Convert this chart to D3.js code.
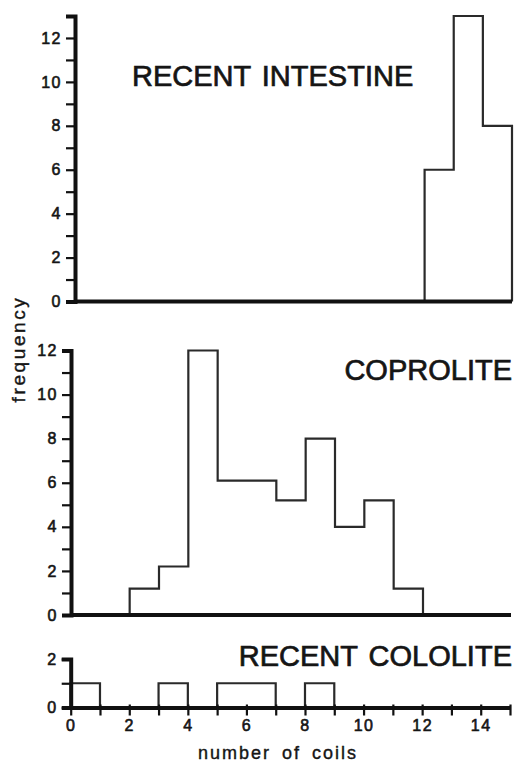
<!DOCTYPE html>
<html>
<head>
<meta charset="utf-8">
<script src="https://cdn.jsdelivr.net/npm/d3@7/dist/d3.min.js"></script>
<style>
  html, body { margin: 0; padding: 0; background: #fff; }
  svg { display: block; }
  text { font-family: "Liberation Sans", Arial, Helvetica, sans-serif; fill: #151515; }
</style>
</head>
<body>
<svg id="chart"></svg>
<script>
// each bin is one coil wide: [start, start + 1)
const binStarts = [0, 1, 2, 3, 4, 5, 6, 7, 8, 9, 10, 11, 12, 13, 14];
const intestineCounts = [0, 0, 0, 0, 0, 0, 0, 0, 0, 0, 0, 0, 6, 13, 8];
const coproliteCounts = [0, 0, 1.2, 2.2, 12, 6.1, 6.1, 5.2, 8, 4, 5.2, 1.2, 0, 0, 0];
const cololiteCounts  = [1, 0, 0, 1, 0, 1, 1, 0, 1, 0, 0, 0, 0, 0, 0];
const xTickValues = [0, 1, 2, 3, 4, 5, 6, 7, 8, 9, 10, 11, 12, 13, 14, 15];
const titles = ['RECENT INTESTINE', 'COPROLITE', 'RECENT COLOLITE'];
const yLabel = 'frequency';
const xLabel = 'number of coils';

const width = 514, height = 762;

// layout of the three stacked panels
const panels = [
  { title: titles[0], counts: intestineCounts, yMax: 13, top: 16, bottom: 301.5, left: 75, right: 512,
    titleX: 132, titleY: 86, anchor: 'start', xAxis: false },
  { title: titles[1], counts: coproliteCounts, yMax: 12, top: 350.5, bottom: 615, left: 71, right: 511,
    titleX: 512, titleY: 380, anchor: 'end', xAxis: false },
  { title: titles[2], counts: cololiteCounts, yMax: 2, top: 659, bottom: 707.5, left: 70.7, right: 510,
    titleX: 512, titleY: 666, anchor: 'end', xAxis: true }
];

const svg = d3.select('#chart')
  .attr('width', width)
  .attr('height', height);

svg.append('rect').attr('width', width).attr('height', height).attr('fill', '#fff');

// slightly heavier text, like the printed original
function inked(sel, w) {
  sel.attr('stroke', '#151515').attr('stroke-width', w).attr('paint-order', 'stroke');
}

panels.forEach(p => {
  const x = d3.scaleLinear().domain([0, 15]).range([p.left, p.right]);
  const y = d3.scaleLinear().domain([0, p.yMax]).range([p.bottom, p.top]);

  const g = svg.append('g');

  // histogram outline as a stepped path
  const pts = [[binStarts[0], 0]];
  binStarts.forEach((b, i) => {
    pts.push([b, p.counts[i]]);
    pts.push([b + 1, p.counts[i]]);
  });
  pts.push([binStarts[binStarts.length - 1] + 1, 0]);

  g.append('path')
    .datum(pts)
    .attr('fill', 'none')
    .attr('stroke', '#2a2a2a')
    .attr('stroke-width', 2.2)
    .attr('stroke-linejoin', 'miter')
    .attr('d', d3.line().x(d => x(d[0])).y(d => y(d[1])));

  // x baseline / axis
  if (p.xAxis) {
    const ax = g.append('g')
      .attr('transform', 'translate(0,' + p.bottom + ')')
      .call(d3.axisBottom(x)
        .tickValues(xTickValues)
        .tickFormat(d => d % 2 === 0 ? d : '')
        .tickSize(8)
        .tickSizeOuter(0)
        .tickPadding(4));
    ax.select('.domain').attr('stroke', '#111').attr('stroke-width', 4);
    ax.selectAll('.tick line').attr('stroke', '#111').attr('stroke-width', 2.2).attr('y1', -3);
    ax.selectAll('.tick text')
      .attr('font-size', 16).attr('letter-spacing', 1.5).attr('fill', '#151515')
      .call(inked, 0.6);
  } else {
    g.append('line')
      .attr('x1', x(0)).attr('x2', x(15))
      .attr('y1', p.bottom).attr('y2', p.bottom)
      .attr('stroke', '#111').attr('stroke-width', 4);
  }

  // y axis
  const ay = g.append('g')
    .attr('transform', 'translate(' + p.left + ',0)')
    .call(d3.axisLeft(y)
      .tickValues(d3.range(0, p.yMax + 1))
      .tickFormat(d => d % 2 === 0 ? d : '')
      .tickSize(9)
      .tickSizeOuter(9)
      .tickPadding(4));
  ay.select('.domain').attr('stroke', '#111').attr('stroke-width', 4);
  ay.selectAll('.tick line').attr('stroke', '#111').attr('stroke-width', 2.2);
  ay.selectAll('.tick text')
    .attr('font-size', 16).attr('letter-spacing', 1.5).attr('fill', '#151515')
    .call(inked, 0.6);

  // panel title
  g.append('text')
    .attr('x', p.titleX)
    .attr('y', p.titleY)
    .attr('text-anchor', p.anchor)
    .attr('font-size', 29)
    .attr('word-spacing', 3)
    .text(p.title)
    .call(inked, 0.7);
});

// axis titles
svg.append('text')
  .attr('transform', 'translate(25,349) rotate(-90)')
  .attr('text-anchor', 'middle')
  .attr('font-size', 19)
  .attr('letter-spacing', 2.6)
  .text(yLabel)
  .call(inked, 0.4);

svg.append('text')
  .attr('x', 278)
  .attr('y', 759)
  .attr('text-anchor', 'middle')
  .attr('font-size', 18)
  .attr('letter-spacing', 2)
  .attr('word-spacing', 4)
  .text(xLabel)
  .call(inked, 0.4);
</script>
</body>
</html>
